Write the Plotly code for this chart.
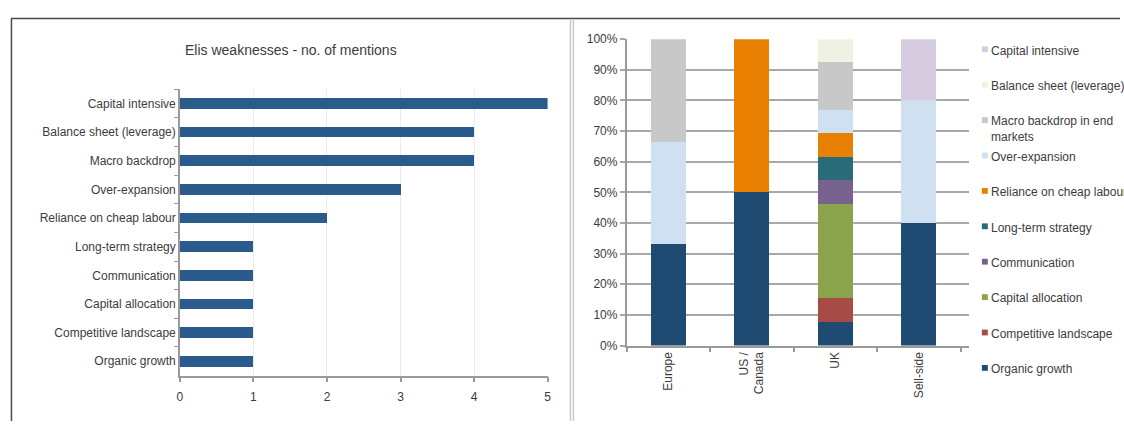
import plotly.graph_objects as go

W, H = 1124, 428

# ---------------- data ----------------
weakness_labels = ["Capital intensive", "Balance sheet (leverage)", "Macro backdrop",
                   "Over-expansion", "Reliance on cheap labour", "Long-term strategy",
                   "Communication", "Capital allocation", "Competitive landscape",
                   "Organic growth"]
weakness_counts = [5, 4, 4, 3, 2, 1, 1, 1, 1, 1]

regions = ["Europe", "US /<br>Canada", "UK", "Sell-side"]

# stacked series (bottom to top), values in % of mentions
organic_growth = [33.3, 50.0, 7.7, 40.0]
competitive_landscape = [0, 0, 7.7, 0]
capital_allocation = [0, 0, 30.8, 0]
communication = [0, 0, 7.7, 0]
long_term_strategy = [0, 0, 7.7, 0]
reliance_cheap_labour = [0, 50.0, 7.7, 0]
over_expansion = [33.3, 0, 7.7, 40.0]
macro_backdrop = [33.4, 0, 15.4, 0]
balance_sheet = [0, 0, 7.6, 0]
capital_intensive = [0, 0, 0, 20.0]

series_names = ["Organic growth", "Competitive landscape", "Capital allocation",
                "Communication", "Long-term strategy", "Reliance on cheap labour",
                "Over-expansion", "Macro backdrop in end<br>markets",
                "Balance sheet (leverage)", "Capital intensive"]
series_values = [organic_growth, competitive_landscape, capital_allocation,
                 communication, long_term_strategy, reliance_cheap_labour,
                 over_expansion, macro_backdrop, balance_sheet, capital_intensive]
series_colors = ["#1F4A72", "#A64B45", "#8BA34B", "#77628F", "#2A6B7A",
                 "#E98002", "#CFE0F1", "#C8C8C8", "#EEF2E3", "#D6CCE0"]

FONT = "Liberation Sans, Arial, sans-serif"
TXT = "#3c3c3c"
AX = "#9a9a9a"


def px(x):
    return x / W


def py(y):
    return 1 - y / H


fig = go.Figure()

# left: horizontal bars
fig.add_trace(go.Bar(
    x=weakness_counts, y=weakness_labels, orientation="h",
    marker=dict(color="#2A5B8C", line=dict(width=0)), width=0.37,
    xaxis="x", yaxis="y", showlegend=False, hoverinfo="x+y"))

# right: stacked bars
for name, vals, col in zip(series_names, series_values, series_colors):
    fig.add_trace(go.Bar(
        x=regions, y=vals, name=name.replace("<br>", " "),
        marker=dict(color=col, line=dict(width=0)), width=0.42,
        xaxis="x2", yaxis="y2", showlegend=False))

shapes = []
annotations = []

# custom legend (top item = last stacked series)
leg_top = 43.7
leg_step = 36.6
for i, (name, col) in enumerate(zip(series_names[::-1], series_colors[::-1])):
    yc = leg_top + i * leg_step
    shapes.append(dict(type="rect", xref="paper", yref="paper",
                       x0=px(985), x1=px(991), y0=py(yc + 3), y1=py(yc - 3),
                       fillcolor=col, line=dict(width=0)))
    annotations.append(dict(xref="paper", yref="paper", x=px(992), y=py(yc - 8),
                            xanchor="left", yanchor="top", align="left",
                            text=name, showarrow=False,
                            font=dict(family=FONT, size=12, color=TXT)))

# title of left chart
annotations.append(dict(xref="paper", yref="paper", x=px(290), y=py(44),
                        xanchor="center", yanchor="middle", showarrow=False,
                        text="Elis weaknesses - no. of mentions",
                        font=dict(family=FONT, size=14, color=TXT)))

# frame lines
shapes += [
    dict(type="line", xref="paper", yref="paper", x0=px(8), x1=1, y0=py(12), y1=py(12),
         line=dict(color="#4a4a4a", width=1.5)),
    dict(type="line", xref="paper", yref="paper", x0=px(8.5), x1=px(8.5), y0=0, y1=py(12),
         line=dict(color="#4a4a4a", width=1.5)),
    dict(type="line", xref="paper", yref="paper", x0=px(571), x1=px(571), y0=0, y1=py(13),
         line=dict(color="#c8c8c8", width=1.5)),
    dict(type="line", xref="paper", yref="paper", x0=px(574), x1=px(574), y0=0, y1=py(13),
         line=dict(color="#c8c8c8", width=1.5)),
]

cat_px = 84.0
fig.update_layout(
    width=W, height=H, margin=dict(l=0, r=0, t=0, b=0),
    paper_bgcolor="white", plot_bgcolor="white",
    barmode="stack",
    font=dict(family=FONT, size=12, color=TXT),
    shapes=shapes, annotations=annotations,
    xaxis=dict(domain=[px(178), px(548)], anchor="y", range=[0, 5], dtick=1,
               showgrid=True, gridcolor="#ececec", gridwidth=1, zeroline=False,
               showline=True, linecolor=AX, linewidth=1.5,
               ticks="outside", ticklen=5, tickcolor=AX, tickwidth=1.5,
               ticklabelstandoff=4, tickfont=dict(size=12, color=TXT), fixedrange=True),
    yaxis=dict(domain=[py(381), py(85)], anchor="x", autorange="reversed",
               type="category", showline=True, linecolor=AX, linewidth=1.5,
               ticks="outside", ticklen=4, tickcolor=AX, tickson="boundaries",
               showgrid=False, tickfont=dict(size=12, color=TXT), fixedrange=True),
    xaxis2=dict(domain=[px(627.5), px(627.5 + 4.1 * cat_px)], anchor="y2",
                range=[-0.5, 3.6],
                type="category", tickangle=-90, showline=True, linecolor=AX,
                linewidth=1.5, ticks="outside", ticklen=5, tickcolor=AX, tickwidth=1.5,
                tickson="boundaries", showgrid=False,
                tickfont=dict(size=12, color=TXT), fixedrange=True),
    yaxis2=dict(domain=[py(350), py(33.3)], anchor="x2", range=[0, 100], dtick=10,
                ticksuffix="%", showgrid=True, gridcolor="#a8a8a8", gridwidth=2,
                zeroline=False, showline=True, linecolor=AX, linewidth=1.5,
                ticks="outside", ticklen=5, tickcolor="#a8a8a8", tickwidth=2,
                tickfont=dict(size=12, color=TXT), fixedrange=True),
)

fig.write_html("out.html")
